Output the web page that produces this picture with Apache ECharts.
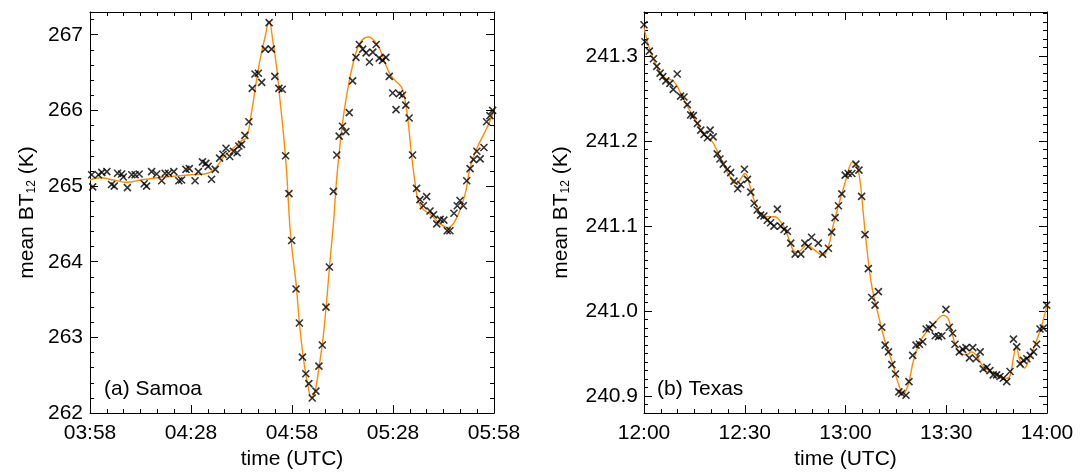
<!DOCTYPE html>
<html><head><meta charset="utf-8">
<script src="https://cdn.jsdelivr.net/npm/echarts@6/dist/echarts.min.js"></script>
<style>html,body{margin:0;padding:0;background:#fff}#c{width:1088px;height:475px}</style>
</head><body><div id="c"></div>
<script>
// ---- data (minutes from start of window) ----
const samoaTickLabels = ['03:58','04:28','04:58','05:28','05:58'];
const texasTickLabels = ['12:00','12:30','13:00','13:30','14:00'];

const samoaTime = [0.5,0.8,2.5,3.5,5.0,6.4,7.2,8.2,9.4,9.9,11.1,12.4,13.4,14.6,16.1,16.8,18.3,19.8,21.3,22.3,23.3,24.9,26.4,27.2,28.5,29.5,31.2,32.2,33.4,34.4,35.1,36.1,37.2,38.5,39.5,40.4,41.5,42.6,43.7,44.2,45.0,46.0,47.2,48.2,49.0,50.0,51.0,52.0,53.2,53.9,54.9,56.1,57.1,58.1,59.1,59.9,61.2,62.2,63.1,64.1,65.0,66.0,67.1,68.0,69.0,70.1,71.1,72.3,73.3,74.0,75.0,76.0,77.0,78.0,79.0,80.0,81.0,82.0,83.0,84.0,85.0,85.9,86.9,87.9,88.9,89.9,90.9,91.9,92.8,93.8,94.8,95.8,97.0,98.0,99.0,100.0,101.0,102.0,103.0,104.0,105.1,106.1,106.9,108.1,109.1,109.9,110.9,111.9,112.9,113.9,114.9,115.9,117.0,117.8,118.8,119.6];
const samoaBT = [265.15,264.99,265.15,265.18,265.19,265.02,265.00,265.17,265.16,265.12,264.98,265.15,265.15,265.16,265.03,265.00,265.19,265.16,265.07,265.17,265.17,265.19,265.07,265.08,265.22,265.23,265.07,265.19,265.32,265.30,265.26,265.09,265.22,265.37,265.42,265.50,265.39,265.46,265.44,265.53,265.55,265.67,265.85,266.29,266.48,266.49,266.37,266.81,267.16,266.81,266.45,266.29,266.28,265.40,264.90,264.28,263.64,263.19,262.74,262.52,262.39,262.20,262.29,262.62,262.90,263.40,263.93,264.93,265.41,265.66,265.79,265.72,265.97,266.39,266.70,266.87,266.81,266.76,266.64,266.77,266.87,266.69,266.66,266.70,266.45,266.23,266.01,266.22,266.20,266.07,265.90,265.41,264.97,264.82,264.74,264.86,264.67,264.62,264.50,264.56,264.55,264.41,264.41,264.64,264.74,264.81,264.74,265.07,265.23,265.35,265.46,265.36,265.51,265.85,265.93,266.00];

const samoaFitTime = [0,3,7,11,15,20,25,30,34,36,38,40,43,45,46.5,48,49.5,50.5,52,53.2,54.4,55.4,56.4,57.4,58.4,59.4,60.3,61.2,62.2,63.4,64.7,65.8,66.8,68.1,69.3,70.5,71.3,72.3,73.3,74.8,76.2,78.2,80.2,82.7,85.6,87.6,89.1,90.5,92.6,93.6,94.5,95.5,96.5,97.5,99,101,104,106.4,108.9,111.4,112.9,114.9,117.8,120];
const samoaFitBT = [265.08,265.11,265.08,265.05,265.08,265.11,265.13,265.15,265.16,265.19,265.28,265.40,265.52,265.60,265.64,265.98,266.41,266.67,266.97,267.18,266.89,266.58,266.15,265.72,265.19,264.45,264.05,263.72,263.19,262.72,262.37,262.20,262.28,262.63,263.02,263.59,264.02,264.50,265.11,265.76,266.19,266.63,266.89,266.97,266.85,266.63,266.48,266.40,266.30,266.13,265.85,265.41,265.06,264.80,264.69,264.63,264.50,264.45,264.58,264.89,265.24,265.50,265.76,266.00];

const texasTime = [0,0.3,1.6,2.8,3.8,4.8,5.6,6.5,7.7,8.7,9.9,10.9,11.9,12.9,13.9,14.7,15.9,16.9,17.9,18.9,19.7,20.6,21.8,22.6,23.6,24.8,25.8,26.8,27.9,28.8,29.9,30.8,31.8,32.8,33.7,34.7,35.7,36.7,37.7,38.7,39.7,40.7,41.7,42.7,43.7,45.0,46.7,47.9,48.9,49.9,51.9,53.2,54.9,55.9,56.9,57.9,58.9,59.9,60.8,61.9,63.1,64.0,64.8,65.8,66.8,67.8,68.8,69.8,70.8,71.8,72.8,73.8,74.9,75.9,76.7,78.0,78.9,80.0,81.0,82.0,83.0,84.0,85.0,86.0,86.7,87.7,88.7,89.9,90.9,91.9,92.6,93.9,94.9,95.9,96.9,97.9,98.9,100.1,101.0,102.1,103.0,104.0,105.0,106.0,107.0,108.0,109.0,110.0,111.0,112.0,113.0,114.0,115.0,116.0,116.9,117.9,118.9,119.9];
const texasBT = [241.337,241.317,241.306,241.297,241.288,241.280,241.276,241.271,241.268,241.261,241.279,241.253,241.252,241.243,241.231,241.230,241.221,241.213,241.208,241.204,241.213,241.205,241.185,241.179,241.173,241.167,241.163,241.153,241.144,241.149,241.167,241.155,241.140,241.127,241.119,241.113,241.112,241.107,241.104,241.100,241.120,241.100,241.096,241.094,241.080,241.067,241.067,241.080,241.076,241.087,241.080,241.067,241.074,241.093,241.110,241.124,241.138,241.160,241.162,241.162,241.173,241.166,241.135,241.090,241.050,241.016,241.007,241.023,240.981,240.960,240.952,240.937,240.926,240.905,240.903,240.901,240.917,240.948,240.960,240.961,240.964,240.979,240.980,240.984,240.971,240.970,240.971,241.002,240.981,240.974,240.961,240.952,240.955,240.957,240.945,240.957,240.944,240.952,240.932,240.934,240.930,240.925,240.925,240.923,240.921,240.917,240.929,240.967,240.958,240.938,240.942,240.944,240.948,240.952,240.961,240.979,240.980,241.007];

const texasFitTime = [0,1.3,2.8,4.3,6.3,8.2,9.7,11.2,13.2,15.7,17.7,20.2,21.6,23.6,25.6,27.1,28.1,30.1,31.6,33.1,35.0,37.0,39.0,40.5,42.0,43.5,45.0,46.5,48.5,50.4,52.4,53.4,54.9,56.4,58.4,60.4,62.0,63.3,64.3,65.3,66.3,67.8,69.8,71.8,73.8,75.8,77.2,78.7,80.2,82.2,84.2,86.7,89.1,90.6,91.6,93.1,94.6,96.1,97.6,99.1,101.0,104.0,106.5,108.0,109.0,110.0,110.8,112.0,113.3,114.4,116.4,118.4,120];
const texasFitBT = [241.334,241.313,241.297,241.284,241.274,241.272,241.266,241.254,241.239,241.222,241.208,241.200,241.190,241.173,241.158,241.150,241.152,241.162,241.146,241.127,241.113,241.111,241.111,241.106,241.097,241.081,241.070,241.071,241.078,241.073,241.067,241.066,241.076,241.102,241.131,241.158,241.175,241.171,241.154,241.115,241.076,241.030,240.995,240.964,240.941,240.914,240.903,240.914,240.941,240.964,240.976,240.987,240.995,240.991,240.976,240.956,240.949,240.949,240.952,240.947,240.935,240.927,240.923,240.921,240.924,240.945,240.958,240.941,240.933,240.941,240.960,240.983,241.007];

// ---- chart ----
const FONT = '"Liberation Sans", Arial, Helvetica, sans-serif';
const FS = 21;
const pairs = (xs, ys) => xs.map((x, i) => [x, ys[i]]);

function xAx(grid, labels, top) {
  return {
    type: 'value', gridIndex: grid, position: top ? 'top' : 'bottom',
    min: 0, max: 120, interval: 30,
    axisLine: { show: true, onZero: false, lineStyle: { color: '#000', width: 1 } },
    axisTick: { show: true, inside: true, length: 8, lineStyle: { color: '#000', width: 1 } },
    minorTick: { show: true, splitNumber: 6, length: 4, lineStyle: { color: '#000', width: 1 } },
    splitLine: { show: false }, minorSplitLine: { show: false },
    axisLabel: { show: !top, margin: 10, fontSize: FS, color: '#000', fontFamily: FONT,
      formatter: v => labels[Math.round(v / 30)] },
    name: top ? '' : 'time (UTC)', nameLocation: 'middle', nameGap: 27,
    nameTextStyle: { fontSize: FS, color: '#000', fontFamily: FONT }
  };
}
function yAx(grid, pos, min, max, opts) {
  return Object.assign({
    type: 'value', gridIndex: grid, position: pos, min: min, max: max,
    axisLine: { show: true, onZero: false, lineStyle: { color: '#000', width: 1 } },
    axisTick: { show: true, inside: true, length: 8, lineStyle: { color: '#000', width: 1 } },
    splitLine: { show: false },
    axisLabel: { show: false }
  }, opts);
}
const yName = (gap) => ({
  name: 'mean BT{sub|12} (K)', nameLocation: 'middle', nameGap: gap,
  nameTextStyle: { fontSize: FS, color: '#000', fontFamily: FONT,
    rich: { sub: { fontSize: 12, color: '#000', fontFamily: FONT, verticalAlign: 'bottom', padding: [9, 0, 0, 0] } } }
});
const minorOpts = (iv) => ({ interval: iv, axisLine: { show: false, onZero: false },
  axisTick: { show: true, inside: true, length: 4, lineStyle: { color: '#000', width: 1 } } });

const yA_min = 262, yA_max = 267.3;
const yB_min = 240.88, yB_max = 241.352;

const crossStyle = { color: 'rgba(0,0,0,0)', borderColor: '#000', borderWidth: 1.6 };

const option = {
  animation: false,
  backgroundColor: '#fff',
  grid: [
    { left: 90, top: 12, width: 404, height: 407, containLabel: false },
    { left: 644, top: 12, width: 403, height: 407, containLabel: false }
  ],
  xAxis: [ xAx(0, samoaTickLabels, false), xAx(0, samoaTickLabels, true),
           xAx(1, texasTickLabels, false), xAx(1, texasTickLabels, true) ],
  yAxis: [
    yAx(0, 'left', yA_min, yA_max, Object.assign({ interval: 1,
      axisLabel: { show: true, margin: 7, fontSize: FS, color: '#000', fontFamily: FONT, showMaxLabel: false,
        formatter: v => String(Math.round(v)) } }, yName(52))),
    yAx(0, 'left', yA_min, yA_max, minorOpts(0.2)),
    yAx(0, 'right', yA_min, yA_max, { interval: 1 }),
    yAx(0, 'right', yA_min, yA_max, minorOpts(0.2)),
    yAx(1, 'left', yB_min, yB_max, Object.assign({ splitNumber: 5,
      axisLabel: { show: true, margin: 6, fontSize: FS, color: '#000', fontFamily: FONT,
        showMinLabel: false, showMaxLabel: false, formatter: v => v.toFixed(1) } }, yName(72))),
    yAx(1, 'left', yB_min, yB_max, minorOpts(0.01)),
    yAx(1, 'right', yB_min, yB_max, { splitNumber: 5 }),
    yAx(1, 'right', yB_min, yB_max, minorOpts(0.01))
  ],
  graphic: [
    { type: 'text', left: 104, top: 379, style: { text: '(a) Samoa', fontSize: FS, fontFamily: FONT, fill: '#000' } },
    { type: 'text', left: 657, top: 379, style: { text: '(b) Texas', fontSize: FS, fontFamily: FONT, fill: '#000' } }
  ],
  series: [
    { type: 'line', xAxisIndex: 0, yAxisIndex: 0, data: pairs(samoaFitTime, samoaFitBT), smooth: 0.4,
      symbol: 'none', lineStyle: { color: '#ff8c00', width: 1.4 }, z: 2 },
    { type: 'scatter', xAxisIndex: 0, yAxisIndex: 0, data: pairs(samoaTime, samoaBT),
      symbol: 'path://M0,0L10,10M10,0L0,10', symbolSize: 7, itemStyle: crossStyle, z: 3 },
    { type: 'line', xAxisIndex: 2, yAxisIndex: 4, data: pairs(texasFitTime, texasFitBT), smooth: 0.4,
      symbol: 'none', lineStyle: { color: '#ff8c00', width: 1.4 }, z: 2 },
    { type: 'scatter', xAxisIndex: 2, yAxisIndex: 4, data: pairs(texasTime, texasBT),
      symbol: 'path://M0,0L10,10M10,0L0,10', symbolSize: 7, itemStyle: crossStyle, z: 3 }
  ]
};
const chart = echarts.init(document.getElementById('c'), null, { renderer: 'canvas' });
chart.setOption(option);
</script></body></html>
